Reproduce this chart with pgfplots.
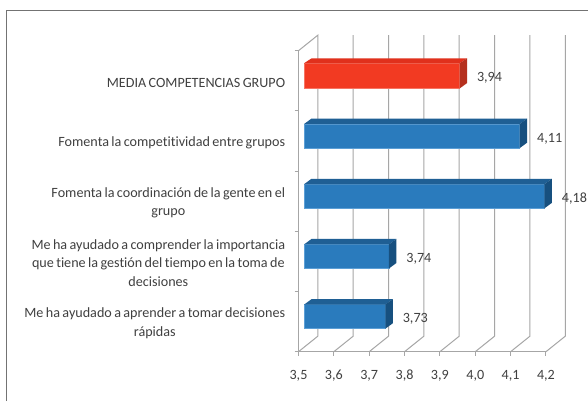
\documentclass[border=0pt]{standalone}
\usepackage{fontspec}
\setmainfont{Carlito}[WordSpace=0.75,Ligatures=NoCommon]
\usepackage{pgfplots}
\pgfplotsset{compat=1.18}
\definecolor{gridc}{HTML}{A6A6A6}
\definecolor{txt}{HTML}{404040}
\definecolor{bluef}{HTML}{2A7BBD}
\definecolor{bluet}{HTML}{1F5F94}
\definecolor{blues}{HTML}{17507F}
\definecolor{bluee}{HTML}{5C9FD6}
\definecolor{redf}{HTML}{F23A22}
\definecolor{redt}{HTML}{E0301C}
\definecolor{reds}{HTML}{B5301E}
\begin{document}
\begin{tikzpicture}[x=0.75pt,y=0.75pt]
\useasboundingbox (0,0) rectangle (588,401);
\fill[white] (0,0) rectangle (588,401);
\draw[color=gray!90!black,line width=1.1pt] (6.5,0) -- (6.5,390.5) -- (588,390.5);
\begin{axis}[
  at={(223.875pt,36.975pt)},anchor=origin,
  scale only axis,width=185.6pt,height=225.75pt,
  xmin=3.5,xmax=4.2,ymin=0,ymax=5,
  clip=false,
  axis lines=left,
  axis line style={-,color=gridc,line width=0.75pt},
  xtick={3.5,3.6,3.7,3.8,3.9,4.0,4.1,4.2},
  ytick={0.5,1.5,2.5,3.5,4.5},
  minor ytick={0,1,2,3,4,5},
  yticklabels={{Me ha ayudado a aprender a tomar decisiones\\rápidas},
    {Me ha ayudado a comprender la importancia\\que tiene la gestión del tiempo en la toma de\\decisiones},
    {Fomenta la coordinación de la gente en el\\grupo},
    {Fomenta la competitividad entre grupos},
    {MEDIA COMPETENCIAS GRUPO}},
  tick align=outside,
  major tick length=3pt,
  minor tick length=3pt,
  y tick style={draw=none},
  minor y tick style={draw=gridc,line width=0.75pt},
  x tick style={color=gridc,line width=0.75pt},
  yticklabel style={align=center,font=\fontsize{10.6}{13.7}\selectfont,text=txt,anchor=east,xshift=-3.5pt,yshift=-1.3pt},
  xticklabel style={font=\fontsize{10.6}{13}\selectfont,text=txt,text height=8pt,text depth=2pt,yshift=-6.5pt},
  /pgf/number format/assume math mode=true,
  /pgf/number format/.cd,use comma,fixed,fixed zerofill,precision=1,
]
\pgfplotsset{every axis plot/.append style={color=gridc,line width=0.75pt}}
\addplot[no marks] coordinates {(3.5,5) (3.5546,5.2575) (3.5546,0.2575) (3.5,0)};
\addplot[no marks] coordinates {(3.6,0) (3.6546,0.2575) (3.6546,5.2575)};
\addplot[no marks] coordinates {(3.7,0) (3.7546,0.2575) (3.7546,5.2575)};
\addplot[no marks] coordinates {(3.8,0) (3.8546,0.2575) (3.8546,5.2575)};
\addplot[no marks] coordinates {(3.9,0) (3.9546,0.2575) (3.9546,5.2575)};
\addplot[no marks] coordinates {(4.0,0) (4.0546,0.2575) (4.0546,5.2575)};
\addplot[no marks] coordinates {(4.1,0) (4.1546,0.2575) (4.1546,5.2575)};
\addplot[no marks] coordinates {(4.2,0) (4.2546,0.2575) (4.2546,5.2575)};
\end{axis}
\begin{axis}[
  at={(228pt,40.65pt)},anchor=origin,
  scale only axis,width=185.6pt,height=225.75pt,
  xmin=3.5,xmax=4.2,ymin=0,ymax=5,
  clip=false,
  hide axis,
  xbar,bar shift=0pt,bar width=18pt,
  nodes near coords,
  every node near coord/.append style={anchor=center,inner sep=0pt,xshift=22.5pt,yshift=-1.7pt,font=\fontsize{10.6}{13}\selectfont,text=txt,
    /pgf/number format/.cd,assume math mode=true,use comma,fixed,fixed zerofill,precision=2},
]
\addplot[fill=bluef,draw=bluee,line width=0.4pt] coordinates {(3.73,0.5) (3.74,1.5) (4.18,2.5) (4.11,3.5)};
\addplot[fill=redf,draw=redf!70!white,line width=0.4pt,bar width=18.75pt] coordinates {(3.94,4.5)};
\end{axis}
\begin{axis}[
  at={(228pt,40.65pt)},anchor=origin,
  scale only axis,width=185.6pt,height=225.75pt,
  xmin=3.5,xmax=4.2,ymin=0,ymax=5,
  clip=false,hide axis,
]
% top faces
\addplot[fill=bluet,draw=none] coordinates {(3.5,0.7) (3.73,0.7) (3.7512,0.7914) (3.5212,0.7914)} -- cycle;
\addplot[fill=bluet,draw=none] coordinates {(3.5,1.7) (3.74,1.7) (3.7612,1.7914) (3.5212,1.7914)} -- cycle;
\addplot[fill=bluet,draw=none] coordinates {(3.5,2.7) (4.18,2.7) (4.2012,2.7914) (3.5212,2.7914)} -- cycle;
\addplot[fill=bluet,draw=none] coordinates {(3.5,3.7) (4.11,3.7) (4.1312,3.7914) (3.5212,3.7914)} -- cycle;
\addplot[fill=redt,draw=none] coordinates {(3.5,4.71) (3.94,4.71) (3.9612,4.7914) (3.5212,4.7914)} -- cycle;
% side faces
\addplot[fill=blues,draw=none] coordinates {(3.73,0.3) (3.73,0.7) (3.7512,0.7914) (3.7512,0.3914)} -- cycle;
\addplot[fill=blues,draw=none] coordinates {(3.74,1.3) (3.74,1.7) (3.7612,1.7914) (3.7612,1.3914)} -- cycle;
\addplot[fill=blues,draw=none] coordinates {(4.18,2.3) (4.18,2.7) (4.2012,2.7914) (4.2012,2.3914)} -- cycle;
\addplot[fill=blues,draw=none] coordinates {(4.11,3.3) (4.11,3.7) (4.1312,3.7914) (4.1312,3.3914)} -- cycle;
\addplot[fill=reds,draw=none] coordinates {(3.94,4.29) (3.94,4.71) (3.9612,4.7914) (3.9612,4.3814)} -- cycle;
\end{axis}
\end{tikzpicture}
\end{document}
